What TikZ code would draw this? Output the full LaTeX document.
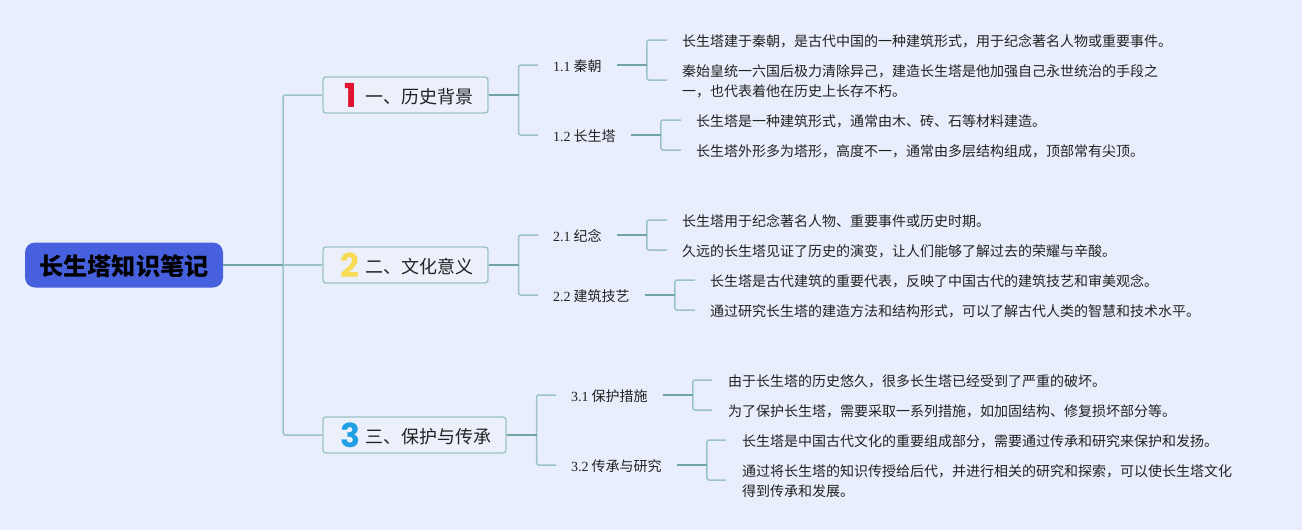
\documentclass[tikz,border=0pt]{standalone}
\usepackage{fontspec}
\setmainfont{Liberation Serif}
\newfontfamily\cjk{Noto Sans CJK SC}
\newfontfamily\numf{Poppins}
\definecolor{bgc}{RGB}{233,238,252}
\definecolor{rootc}{RGB}{71,97,222}
\definecolor{stemc}{RGB}{113,165,165}
\definecolor{branchc}{RGB}{155,195,197}
\definecolor{boxc}{RGB}{235,240,251}
\definecolor{inkc}{RGB}{34,34,34}
\definecolor{oneC}{RGB}{224,20,46}
\definecolor{twoC}{RGB}{247,219,82}
\definecolor{threeC}{RGB}{32,160,226}
\tikzset{
 x=1pt,y=-1pt,
 rootnode/.style={fill=rootc,rounded corners=10pt,minimum width=198pt,minimum height=45pt,inner sep=0pt,font=\cjk\bfseries\fontsize{24.2}{24}\selectfont,text=black,text height=25.6pt,text depth=4pt},
 secnode/.style={draw=branchc,line width=1.3pt,fill=boxc,rounded corners=3pt,minimum height=36pt,inner sep=0pt,font=\cjk\fontsize{18}{20}\selectfont,text=inkc,text height=19pt,text depth=3pt},
 subnode/.style={anchor=west,inner xsep=15pt,inner ysep=0pt,font=\fontsize{14}{16}\selectfont,text=inkc,text height=16pt,text depth=3pt},
 leafnode/.style={anchor=west,inner xsep=15pt,inner ysep=0pt,font=\cjk\fontsize{14}{20}\selectfont,text=inkc,align=left},
 numnode/.style={inner sep=0pt,font=\numf\bfseries\fontsize{33}{33}\selectfont},
 stem/.style={draw=stemc,line width=1.5pt},
 branch/.style={draw=branchc,line width=1.5pt,rounded corners=2pt},
}
\newcommand{\subt}[2]{#1\hspace{3pt}{\cjk #2}}
% \fork[rise of the child end]{parent}{run}{junction name}{child a}{child b}
\newcommand{\fork}[6][0pt]{%
 \path (#2.east) ++(#3,0) coordinate (#4);
 \draw[branch] (#4) |- ([yshift=#1]#5.west);
 \draw[branch] (#4) |- ([yshift=#1]#6.west);
 \draw[stem] (#2.east) -- (#4);
}
\begin{document}
\begin{tikzpicture}
\useasboundingbox[fill=bgc] (0,0) rectangle (1302,530);
\node[rootnode] (root) at (124,265) {长生塔知识笔记};
\node[secnode,minimum width=165pt] (s1) at (405.5,95) {\hspace*{28pt}一、历史背景};
\node[secnode,minimum width=165pt] (s2) at (405.5,265) {\hspace*{28pt}二、文化意义};
\node[secnode,minimum width=183pt] (s3) at (414.5,435) {\hspace*{28pt}三、保护与传承};
\node[numnode,text=oneC] (n1) at (351,95) {1};
\node[numnode,text=twoC] (n2) at (350,265) {2};
\node[numnode,text=threeC] (n3) at (350,435) {3};

\node[subnode] (p11) at (538,65) {\subt{1.1}{秦朝}};
\node[subnode] (p12) at (538,135) {\subt{1.2}{长生塔}};
\node[subnode] (p21) at (538,235) {\subt{2.1}{纪念}};
\node[subnode] (p22) at (538,295) {\subt{2.2}{建筑技艺}};
\node[subnode] (p31) at (556,395) {\subt{3.1}{保护措施}};
\node[subnode] (p32) at (556,465) {\subt{3.2}{传承与研究}};

\node[leafnode] (l111) at (667,41.5) {长生塔建于秦朝，是古代中国的一种建筑形式，用于纪念著名人物或重要事件。};
\node[leafnode] (l112) at (667,81.5) {秦始皇统一六国后极力清除异己，建造长生塔是他加强自己永世统治的手段之\\一，也代表着他在历史上长存不朽。};
\node[leafnode] (l121) at (681,121.5) {长生塔是一种建筑形式，通常由木、砖、石等材料建造。};
\node[leafnode] (l122) at (681,151.5) {长生塔外形多为塔形，高度不一，通常由多层结构组成，顶部常有尖顶。};
\node[leafnode] (l211) at (667,221.5) {长生塔用于纪念著名人物、重要事件或历史时期。};
\node[leafnode] (l212) at (667,251.5) {久远的长生塔见证了历史的演变，让人们能够了解过去的荣耀与辛酸。};
\node[leafnode] (l221) at (695,281.5) {长生塔是古代建筑的重要代表，反映了中国古代的建筑技艺和审美观念。};
\node[leafnode] (l222) at (695,311.5) {通过研究长生塔的建造方法和结构形式，可以了解古代人类的智慧和技术水平。};
\node[leafnode,inner xsep=16pt] (l311) at (712,381.5) {由于长生塔的历史悠久，很多长生塔已经受到了严重的破坏。};
\node[leafnode,inner xsep=16pt] (l312) at (712,411.5) {为了保护长生塔，需要采取一系列措施，如加固结构、修复损坏部分等。};
\node[leafnode,inner xsep=16pt] (l321) at (726,441.5) {长生塔是中国古代文化的重要组成部分，需要通过传承和研究来保护和发扬。};
\node[leafnode,inner xsep=16pt] (l322) at (726,481.5) {通过将长生塔的知识传授给后代，并进行相关的研究和探索，可以使长生塔文化\\得到传承和发展。};

\path (root.east) ++(60,0) coordinate (j0);
\draw[branch] (j0) |- (s1.west);
\draw[branch] (j0) |- (s3.west);
\draw[branch] (j0) -- (s2.west);
\draw[stem] (root.east) -- (j0);

\fork{s1}{30}{j1}{p11}{p12}
\fork{s2}{30}{j2}{p21}{p22}
\fork{s3}{30}{j3}{p31}{p32}
\fork[1.5pt]{p11}{30}{j11}{l111}{l112}
\fork[1.5pt]{p12}{30}{j12}{l121}{l122}
\fork[1.5pt]{p21}{30}{j21}{l211}{l212}
\fork[1.5pt]{p22}{30}{j22}{l221}{l222}
\fork[1.5pt]{p31}{30}{j31}{l311}{l312}
\fork[1.5pt]{p32}{30}{j32}{l321}{l322}
\end{tikzpicture}
\end{document}
